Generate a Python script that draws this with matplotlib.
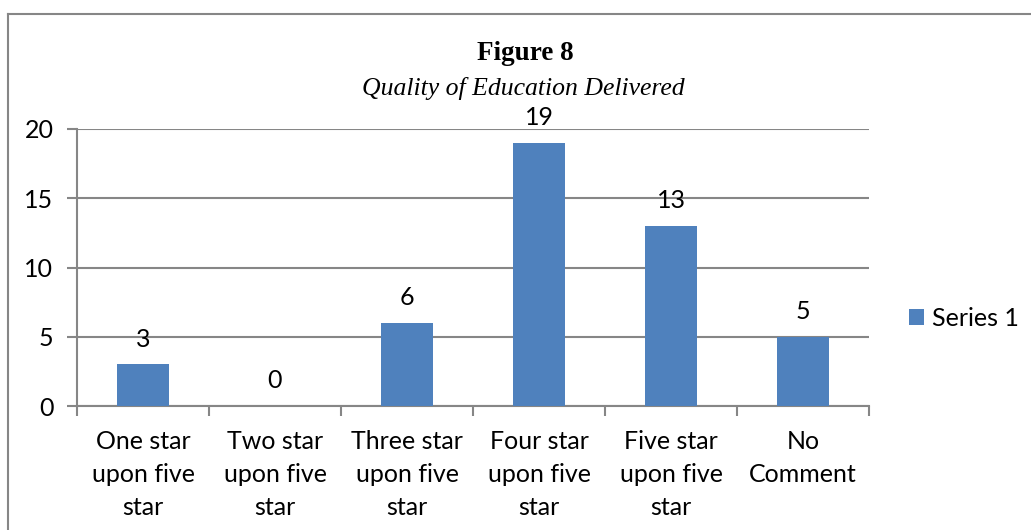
import matplotlib
matplotlib.use('Agg')
import matplotlib.pyplot as plt
from matplotlib.lines import Line2D
import numpy as np

######################################################################
# Data
categories = ['One star\nupon five\nstar', 'Two star\nupon five\nstar',
              'Three star\nupon five\nstar', 'Four star\nupon five\nstar',
              'Five star\nupon five\nstar', 'No\nComment']
values = [3, 0, 6, 19, 13, 5]
series_name = 'Series 1'
y_ticks = [0, 5, 10, 15, 20]

bar_color = '#4F81BD'
grid_color = '#868686'
sans = ['Lato', 'DejaVu Sans']
serif = ['Liberation Serif', 'DejaVu Serif']

######################################################################
# Figure and axes
fig = plt.figure(figsize=(10.31, 5.30), dpi=100)
ax = fig.add_axes([77 / 1031, 1 - 406 / 530, (869 - 77) / 1031, (406 - 129) / 530])

x = np.arange(len(categories))
bars = ax.bar(x, values, width=0.39, color=bar_color, zorder=3, label=series_name)

ax.set_xlim(-0.5, len(categories) - 0.5)
ax.set_ylim(0, 20)
ax.set_yticks(y_ticks)
ax.set_yticklabels([str(t) for t in y_ticks], fontsize=18, family=sans)
ax.yaxis.grid(True, color=grid_color, linewidth=1.5, zorder=0)

# category boundaries carry the tick marks, centres carry the labels
ax.set_xticks(np.arange(len(categories) + 1) - 0.5)
ax.set_xticklabels([])
ax.set_xticks(x, minor=True)
ax.set_xticklabels(categories, minor=True, fontsize=18, family=sans, linespacing=1.53)
ax.tick_params(axis='x', which='major', length=7, width=1.5, color=grid_color)
ax.tick_params(axis='x', which='minor', length=0, pad=17)
ax.tick_params(axis='y', length=7, width=1.5, color=grid_color, pad=10)

for side in ['top', 'right']:
    ax.spines[side].set_visible(False)
for side in ['left', 'bottom']:
    ax.spines[side].set_color(grid_color)
    ax.spines[side].set_linewidth(1.5)

for rect, v in zip(bars, values):
    ax.annotate(str(v), (rect.get_x() + rect.get_width() / 2, v),
                xytext=(0, 18), textcoords='offset points', ha='center', va='center',
                fontsize=18, family=sans)

leg = fig.legend(handles=[bars], labels=[series_name], loc='center left',
                 bbox_to_anchor=(887 / 1031, 1 - 318 / 530), frameon=False,
                 prop={'family': sans, 'size': 18}, handlelength=0.6, handleheight=0.6,
                 handletextpad=0.3)

######################################################################
# Titles
fig.text(525 / 1031, 1 - 54 / 530, 'Figure 8', ha='center', va='center',
         fontsize=19.5, fontweight='bold', family=serif)
fig.text(523 / 1031, 1 - 88 / 530, 'Quality of Education Delivered', ha='center', va='center',
         fontsize=18.5, style='italic', family=serif)

# chart border (only left and top edges fall inside the image)
fig.add_artist(Line2D([8 / 1031, 8 / 1031], [0, 1 - 14 / 530], transform=fig.transFigure,
                      color=grid_color, linewidth=1.5))
fig.add_artist(Line2D([8 / 1031, 1], [1 - 14 / 530, 1 - 14 / 530], transform=fig.transFigure,
                      color=grid_color, linewidth=1.5))

fig.savefig('out.png', dpi=100)
